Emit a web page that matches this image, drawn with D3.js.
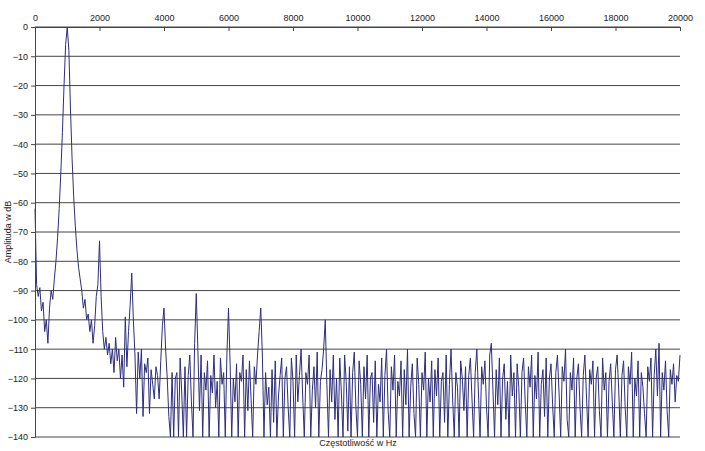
<!DOCTYPE html>
<html><head><meta charset="utf-8">
<script src="https://cdn.jsdelivr.net/npm/d3@7"></script>
<style>body{margin:0;background:#fff}text{font-family:"Liberation Sans",Arial,sans-serif}</style>
</head><body><svg id="c" width="705" height="451"></svg>
<script>
const stepHz = 50;
const amplitudes = [
-62,-88,-92,-89,-97,-94,-104,-100,-108,-96,-90,-93,-86,-80,-72,-62,-50,-36,-20,-6,0,
-8,-28,-45,-58,-68,-76,-82,-86,-90,-96,-93,-100,-98,-104,-100,-108,-102,-92,-88,-73,
-92,-104,-110,-106,-112,-108,-115,-110,-118,-106,-114,-110,-120,-112,-123,-99,-116,-104,-95,-84,
-100,-112,-132,-111,-120,-110,-133,-115,-118,-113,-132,-117,-122,-127,-116,-119,-127,-114,-102,-96,
-110,-120,-133,-140,-118,-140,-120,-118,-140,-113,-125,-140,-116,-140,-119,-112,-128,-140,-108,-91,
-110,-131,-112,-140,-118,-124,-114,-140,-119,-125,-112,-130,-121,-140,-113,-122,-118,-140,-112,-96,
-115,-140,-120,-128,-115,-140,-118,-121,-112,-140,-117,-131,-114,-127,-140,-116,-122,-112,-104,-96,
-112,-140,-118,-129,-123,-140,-117,-135,-114,-140,-126,-119,-113,-140,-120,-116,-130,-140,-113,-121,
-140,-112,-128,-119,-110,-126,-140,-118,-122,-112,-140,-124,-116,-130,-111,-140,-121,-117,-110,-100,
-122,-140,-117,-128,-112,-134,-120,-140,-113,-125,-140,-112,-121,-138,-116,-140,-118,-111,-130,-140,
-114,-122,-140,-116,-127,-112,-140,-120,-118,-135,-114,-140,-122,-128,-113,-140,-119,-110,-131,-140,
-116,-124,-112,-140,-121,-126,-114,-140,-117,-129,-110,-140,-123,-115,-132,-140,-113,-122,-140,-118,
-124,-111,-140,-120,-128,-114,-140,-117,-126,-113,-140,-121,-118,-135,-112,-140,-122,-110,-127,-140,
-118,-123,-140,-114,-120,-131,-116,-140,-119,-113,-127,-140,-118,-110,-125,-140,-116,-122,-114,-130,
-140,-112,-108,-124,-140,-117,-129,-113,-140,-120,-115,-134,-121,-140,-112,-126,-118,-140,-115,-123,
-140,-118,-113,-128,-140,-116,-123,-112,-140,-119,-127,-111,-140,-122,-117,-133,-113,-140,-120,-115,
-129,-140,-118,-112,-125,-140,-116,-121,-110,-134,-140,-118,-124,-113,-140,-120,-115,-130,-140,-119,
-112,-126,-140,-117,-122,-114,-140,-120,-116,-131,-140,-113,-124,-118,-140,-121,-115,-128,-140,-117,
-112,-124,-140,-119,-114,-130,-140,-116,-122,-111,-140,-120,-126,-114,-140,-118,-123,-132,-140,-116,
-121,-113,-140,-119,-110,-126,-108,-140,-118,-124,-114,-131,-140,-117,-122,-115,-128,-119,-121,-112
];
const xTicks = [0,2000,4000,6000,8000,10000,12000,14000,16000,18000,20000];
const yTicks = [0,-10,-20,-30,-40,-50,-60,-70,-80,-90,-100,-110,-120,-130,-140];
const data = amplitudes.map((v,i)=>({f:i*stepHz,a:v}));

const svg = d3.select("#c");
const L=35,R=680,T=27,B=437;
const x = d3.scaleLinear().domain([0,20000]).range([L,R]);
const y = d3.scaleLinear().domain([-140,0]).range([B,T]);

svg.append("g").selectAll("line").data(yTicks).join("line")
 .attr("x1",L).attr("x2",R).attr("y1",d=>y(d)).attr("y2",d=>y(d))
 .attr("stroke","#444").attr("stroke-width",1);

svg.append("path").datum(data)
 .attr("d",d3.line().x(d=>x(d.f)).y(d=>y(d.a)))
 .attr("fill","none").attr("stroke","#2e2e7a").attr("stroke-width",1);

const ax = svg.append("g").attr("transform",`translate(0,${T})`)
 .call(d3.axisTop(x).tickValues(xTicks).tickFormat(d3.format("d")).tickSize(-4));
const ay = svg.append("g").attr("transform",`translate(${L},0)`)
 .call(d3.axisLeft(y).tickValues(yTicks).tickSize(4));
[ax,ay].forEach(g=>{g.select(".domain").attr("stroke","#444");
 g.selectAll("line").attr("stroke","#444");
 g.selectAll("text").attr("font-size",9).attr("fill","#222").style("font-family","Liberation Sans, Arial");});
ax.selectAll("text").attr("dy","-0.3em");

svg.append("text").attr("x",358).attr("y",446).attr("text-anchor","middle")
 .attr("font-size",9).attr("fill","#222").text("Częstotliwość w Hz");
svg.append("text").attr("transform","translate(11,232) rotate(-90)").attr("text-anchor","middle")
 .attr("font-size",9).attr("fill","#222").text("Amplituda w dB");
</script></body></html>
